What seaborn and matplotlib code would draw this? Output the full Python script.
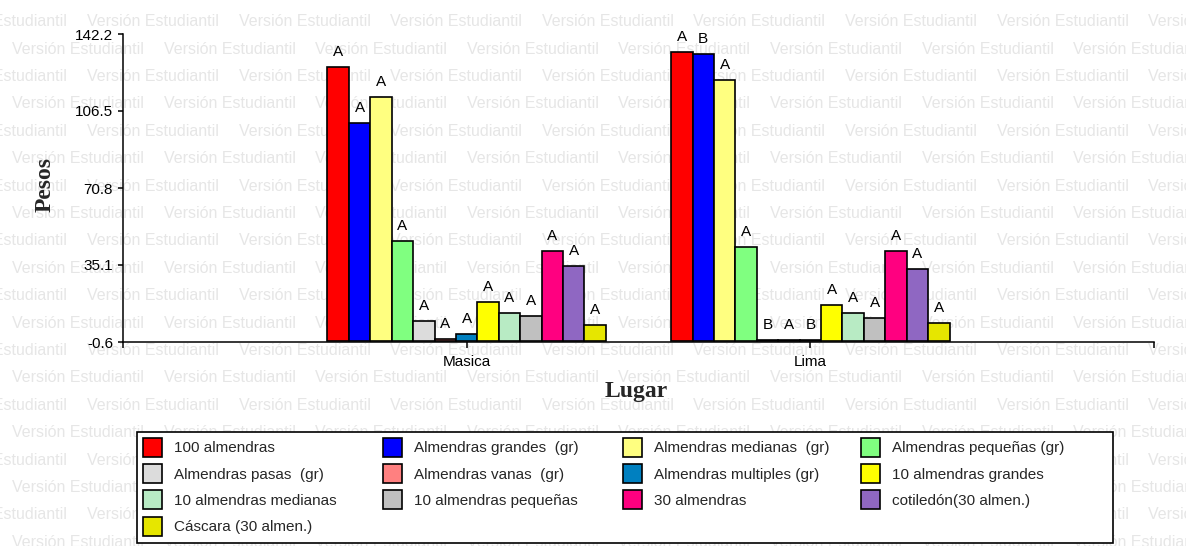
import numpy as np
import pandas as pd
import matplotlib
matplotlib.use("Agg")
import matplotlib.pyplot as plt
import seaborn as sns
from matplotlib.patches import Patch, Rectangle

# ---------------- data ----------------
lugares = ["Masica", "Lima"]
variables = [
    "100 almendras", "Almendras grandes  (gr)", "Almendras medianas  (gr)",
    "Almendras pequeñas (gr)", "Almendras pasas  (gr)", "Almendras vanas  (gr)",
    "Almendras multiples (gr)", "10 almendras grandes", "10 almendras medianas",
    "10 almendras pequeñas", "30 almendras", "cotiledón(30 almen.)",
    "Cáscara (30 almen.)",
]
masica = [126.8, 101.1, 113.1, 46.1, 9.0, 0.6, 3.1, 17.9, 12.7, 11.3, 41.6, 34.6, 7.4]
lima = [133.7, 132.9, 120.7, 43.6, 0.5, 0.4, 0.5, 16.6, 12.7, 10.4, 41.6, 33.2, 8.1]
letras_masica = ["A", "A", "A", "A", "A", "A", "A", "A", "A", "A", "A", "A", "A"]
letras_lima = ["A", "B", "A", "A", "B", "A", "B", "A", "A", "A", "A", "A", "A"]
colores = ["#FF0000", "#0000FF", "#FFFF80", "#80FF80", "#DCDCDC", "#FF8080",
           "#0080C0", "#FFFF00", "#B8EBC4", "#C0C0C0", "#FF0080", "#8F67C2",
           "#E6E600"]
yticks = [-0.6, 35.1, 70.8, 106.5, 142.2]
ytick_labels = ["-0.6", "35.1", "70.8", "106.5", "142.2"]

df = pd.DataFrame({
    "Lugar": np.repeat(lugares, len(variables)),
    "Variable": variables * len(lugares),
    "Peso": masica + lima,
})
letras = {"Masica": letras_masica, "Lima": letras_lima}

# ---------------- style ----------------
sns.set_style("white")
plt.rcParams["font.family"] = ["Liberation Sans", "DejaVu Sans"]

W, H = 1186, 546
fig = plt.figure(figsize=(W / 100, H / 100), dpi=100)
fig.patch.set_facecolor("white")

# watermark
for j in range(20):
    y = 21.7 + 27.4 * j
    x0 = 87 if j % 2 == 0 else 12
    for k in range(-1, 8):
        x = x0 + 151.6 * k
        fig.text(x / W, 1 - y / H, "Versión Estudiantil", fontsize=11.5,
                 color="#e6e6e6", ha="left", va="center", zorder=-5)

ax = fig.add_axes([123 / W, 1 - 342 / H, (1154 - 123) / W, (342 - 34) / H])
ax.patch.set_alpha(0)

sns.barplot(data=df, x="Lugar", y="Peso", hue="Variable", order=lugares,
            hue_order=variables, palette=colores, saturation=1,
            edgecolor="black", linewidth=1.2, width=0.81, ax=ax,
            legend=False, errorbar=None)

# letters above bars
for i, cont in enumerate(ax.containers):
    for j, bar in enumerate(cont):
        lug = lugares[j]
        ax.annotate(letras[lug][i],
                    (bar.get_x() + bar.get_width() / 2, bar.get_height()),
                    xytext=(0, 8), textcoords="offset points",
                    ha="center", va="baseline", fontsize=11, color="black")

ax.set_xlim(-1, 2)
ax.set_ylim(-0.6, 142.2)
ax.set_yticks(yticks)
ax.set_yticklabels(ytick_labels, fontsize=11)
ax.set_xticks([-1, 0, 1, 2])
ax.set_xticklabels(["", "Masica", "Lima", ""], fontsize=11)
ax.tick_params(axis="y", length=3.6, width=1.1, pad=3.5, colors="black",
               left=True)
ax.tick_params(axis="x", length=4.5, width=1.1, pad=5, colors="black",
               bottom=True)
for s in ["top", "right"]:
    ax.spines[s].set_visible(False)
for s in ["left", "bottom"]:
    ax.spines[s].set_color("black")
    ax.spines[s].set_linewidth(1.1)

ax.set_ylabel("Pesos", fontsize=17, fontweight="bold",
              family=["Liberation Serif", "DejaVu Serif"])
ax.set_xlabel("Lugar", fontsize=17, fontweight="bold",
              family=["Liberation Serif", "DejaVu Serif"])
ax.yaxis.set_label_coords((45 - 123) / 1031, (342 - 184) / 308)
ax.yaxis.label.set_verticalalignment("center")
ax.xaxis.set_label_coords((636 - 123) / 1031, (342 - 392) / 308)
ax.xaxis.label.set_verticalalignment("center")

# legend: frame + 4 columns (row-major order)
frame = Rectangle((137 / W, 1 - 543 / H), (1113 - 137) / W, (543 - 432) / H,
                  transform=fig.transFigure, facecolor="white",
                  edgecolor="black", linewidth=1.2, zorder=2)
fig.patches.append(frame)

handles = [Patch(facecolor=c, edgecolor="black", linewidth=1.2) for c in colores]
col_x = [143, 383, 623, 861]
for c in range(4):
    idx = list(range(c, len(variables), 4))
    leg = fig.legend([handles[i] for i in idx], [variables[i] for i in idx],
                     loc="upper left", bbox_to_anchor=(col_x[c] / W, 1 - 437.7 / H),
                     bbox_transform=fig.transFigure, frameon=False,
                     borderpad=0, borderaxespad=0, fontsize=11,
                     handlelength=1.24, handleheight=1.54, handletextpad=0.8,
                     labelspacing=0.48)
    leg.set_zorder(3)

fig.savefig("out.png", dpi=100, facecolor="white")
